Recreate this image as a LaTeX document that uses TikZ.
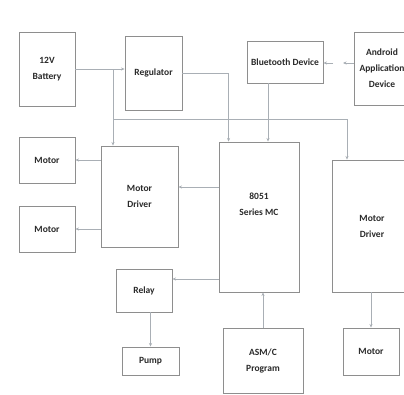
\documentclass[tikz,border=0pt]{standalone}
\usepackage{fontspec}
\setmainfont{Carlito}
\usetikzlibrary{arrows.meta}
\definecolor{boxc}{HTML}{8E8E8E}
\definecolor{linec}{HTML}{A9AFB5}
\definecolor{txtc}{HTML}{2A2A2A}
\tikzset{
  box/.style={draw=boxc, line width=0.9pt, rectangle, inner sep=1pt, align=center,
    text=txtc, font=\fontsize{9.5}{16}\selectfont\bfseries},
  arr/.style={draw=linec, line width=0.8pt, -{Stealth[length=3.5pt,width=3pt]}},
  ln/.style={draw=linec, line width=0.8pt}
}
\begin{document}
\begin{tikzpicture}[x=1pt,y=-1pt]
\useasboundingbox (0,0) rectangle (404,394);
\clip (0,0) rectangle (404,394);
\fill[white] (0,0) rectangle (404,394);
\node[box, minimum width=56pt, minimum height=74pt] (bat) at (47,69) {12V\\Battery};
\node[box, minimum width=57pt, minimum height=74pt] (reg) at (153.5,73) {Regulator};
\node[box, minimum width=76pt, minimum height=42pt] (bt) at (285,62) {Bluetooth Device};
\node[box, minimum width=56pt, minimum height=73pt] (and) at (382,68.5) {Android\\Application\\Device};
\node[box, minimum width=56pt, minimum height=46pt] (m1) at (47,160) {Motor};
\node[box, minimum width=56pt, minimum height=46pt] (m2) at (47,229) {Motor};
\node[box, minimum width=77pt, minimum height=101pt] (mdL) at (139.5,196.5) {Motor\\Driver};
\node[box, minimum width=80pt, minimum height=150pt, text depth=26pt] (mc) at (259,217) {8051\\Series MC};
\node[box, minimum width=80pt, minimum height=132pt] (mdR) at (372,226) {Motor\\Driver};
\node[box, minimum width=56pt, minimum height=43pt] (relay) at (144,290.5) {Relay};
\node[box, minimum width=57pt, minimum height=28pt] (pump) at (150.5,361) {Pump};
\node[box, minimum width=80pt, minimum height=65pt] (asm) at (263,360.5) {ASM/C\\Program};
\node[box, minimum width=56pt, minimum height=47pt] (mR) at (371,351.5) {Motor};
% connectors
\coordinate (J) at (113,69);
\coordinate (H) at (347,119);
\draw[arr] (bat.east) -- (reg.west |- bat.east);
\draw[arr] (J) -- (J |- mdL.north);
\draw[ln] (J) |- (H);
\draw[arr] (H) -- (H |- mdR.north);
\draw[arr] (reg.east) -| ([xshift=10pt]mc.north west);
\draw[arr] ([xshift=-17pt]bt.south) -- ([xshift=-17pt]bt.south |- mc.north);
\coordinate (a1) at (343,63);
\coordinate (a2) at (333,63);
\draw[arr] (and.west |- a1) -- (a1);
\draw[arr] (a2) -- (bt.east |- a2);
\coordinate (c1) at (0,187);
\draw[arr] (mc.west |- c1) -- (mdL.east |- c1);
\draw[arr] (mdL.west |- m1.east) -- (m1.east);
\draw[arr] (mdL.west |- m2.east) -- (m2.east);
\coordinate (c2) at (0,279);
\draw[arr] (mc.west |- c2) -- (relay.east |- c2);
\draw[arr] (pump.north |- relay.south) -- (pump.north);
\draw[arr] (asm.north) -- (asm.north |- mc.south);
\draw[arr] (mR.north |- mdR.south) -- (mR.north);
\end{tikzpicture}
\end{document}
